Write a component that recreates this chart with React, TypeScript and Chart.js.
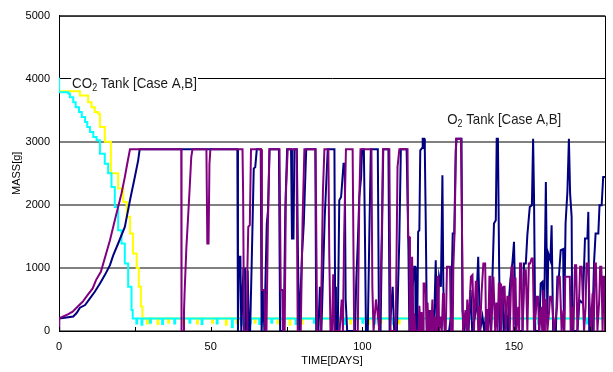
import React, { useEffect, useRef } from "react";
import { Chart, registerables } from "chart.js";

Chart.register(...registerables);

// ---- axis definitions ----
const X_MIN = 0;
const X_MAX = 180;
const X_LABEL_STEP = 50;
const X_MARK_STEP = 25;
const Y_MIN = 0;
const Y_MAX = 5000;
const Y_STEP = 1000;
const X_TITLE = "TIME[DAYS]";
const Y_TITLE = "MASS[g]";

// ---- series: [day, mass g] ----
const co2CaseA: [number, number][] = [
  [0, 3800], [6.9, 3734], [9.6, 3628], [10.7, 3549], [11.8, 3470], [12.9, 3444], [13.5, 3233],
  [15.1, 3000], [17.1, 2500], [19.5, 2260], [21.2, 2046], [22.3, 1810], [23.4, 1545], [24.4, 1230],
  [25.6, 1000], [26.3, 700], [27, 390], [27.5, 200],
  [29, 120], [29.3, 200], [32.5, 110], [32.8, 200], [36, 130], [36.3, 200], [41, 110], [41.3, 200],
  [45.5, 120], [45.8, 200], [50.5, 130], [50.8, 200], [55, 100], [55.3, 200], [58.5, 120], [58.8, 200],
  [61.5, 110], [61.8, 200], [64.5, 130], [64.8, 200], [68, 110], [68.3, 200], [72, 120], [72.3, 200],
  [76, 100], [76.3, 200], [80, 120], [80.3, 200], [86, 110], [86.3, 200], [92, 130], [92.3, 200],
  [96, 120], [96.3, 200], [102, 110], [102.3, 200], [106, 130], [106.3, 200], [112, 120], [112.3, 200],
  [116, 110], [116.3, 200], [180, 200],
];

const co2CaseB: [number, number][] = [
  [0, 4000], [0.05, 3786], [3.1, 3760], [3.6, 3707], [4.7, 3628], [5.5, 3549], [6.6, 3470], [7.5, 3391],
  [8.6, 3312], [9.3, 3233], [10.2, 3154], [11.3, 3075], [12.4, 3022], [13.5, 2810], [15.1, 2650],
  [16.2, 2500], [17.3, 2283], [18.4, 1967], [19.5, 1598], [20.6, 1387], [21.7, 1070], [22.8, 700],
  [23.9, 332], [24.3, 200],
  [25.5, 120], [25.8, 200], [27.2, 100], [27.5, 200], [30, 130], [30.3, 200], [34, 110], [34.3, 200],
  [38, 120], [38.3, 200], [43, 130], [43.3, 200], [47, 110], [47.3, 200], [52, 120], [52.3, 200],
  [57, 60], [57.3, 200], [60, 100], [60.3, 200], [63, 120], [63.3, 200], [66, 110], [66.3, 200],
  [70, 130], [70.3, 200], [74, 120], [74.3, 200], [78, 110], [78.3, 200], [84, 130], [84.3, 200],
  [90, 120], [90.3, 200], [94, 110], [94.3, 200], [100, 130], [100.3, 200], [104, 120], [104.3, 200],
  [110, 110], [110.3, 200], [118, 130], [118.3, 200], [125, 120], [125.3, 200], [134, 110], [134.3, 200],
  [142, 130], [142.3, 200], [150, 120], [150.3, 200], [158, 110], [158.3, 200], [166, 130], [166.3, 200],
  [174, 120], [174.3, 200], [180, 200],
];

const o2CaseA: [number, number][] = [
  [0, 0], [0.05, 200], [4.7, 230], [5.8, 285], [6.9, 369], [8.6, 411], [10.2, 517], [11.8, 622],
  [13.5, 754], [15.1, 886], [16.8, 1044], [17.9, 1202], [19.5, 1387], [21.7, 1650], [23.4, 2073],
  [25, 2441], [26.1, 2705], [26.6, 2880],
  [58.8, 2880], [59, 0], [59.3, 1176], [59.8, 1176], [60.1, 0], [60.8, 992], [61.3, 992], [61.6, 0],
  [62, 0], [62.2, 960], [62.6, 0], [63, 0], [63.5, 1018], [64.2, 2574], [64.7, 2600], [65.2, 2880],
  [66.5, 2880], [66.8, 0], [67.3, 649], [67.7, 0], [68.5, 1704], [68.9, 1914], [69.4, 2880],
  [72.5, 2880], [72.9, 0], [74.1, 0], [74.6, 1914], [75.2, 2880],
  [76.5, 2880], [76.8, 1466], [77.3, 1466], [77.6, 2880], [78.4, 2880], [78.8, 1100], [79.2, 0],
  [80.1, 1200], [80.7, 1700], [81.5, 2880],
  [84.5, 2880], [84.8, 0], [85.5, 0], [86, 700], [86.5, 0], [87.6, 1800], [88.6, 2880],
  [90.8, 2880], [91, 700], [91.3, 0], [91.9, 0], [92.4, 2073], [93, 2125], [93.8, 2650], [94.2, 2650],
  [94.5, 500], [95, 0],
  [97.6, 0], [98, 800], [98.5, 1387], [99, 2125], [99.6, 2441], [99.9, 2880], [100.5, 2880],
  [100.8, 1783], [101.2, 0], [101.8, 0], [102.3, 1500], [102.8, 2880],
  [105.1, 2880], [105.5, 0], [106, 0], [106.5, 1600], [106.9, 2880], [108.6, 2880], [109, 0],
  [110, 700], [110.5, 0], [111.4, 0], [112.2, 1466], [112.7, 2880], [114.6, 2880], [115.2, 1300],
  [115.5, 0], [116.3, 0], [116.6, 700], [117.1, 1018], [117.4, 1018], [117.6, 0], [118.1, 0],
  [118.4, 1572], [118.8, 1600], [119.1, 2864], [119.7, 2900], [119.9, 3048], [120.4, 3048],
  [120.6, 2864], [120.9, 1756], [121.3, 0], [122, 332], [122.5, 0], [123.1, 332], [123.6, 0],
  [124.2, 1123], [124.6, 0], [125.3, 860], [125.9, 701], [126.4, 2468], [126.7, 701], [127.2, 0],
  [128.6, 0], [129.2, 227], [129.8, 1545], [130.3, 1545], [130.8, 2864], [131.1, 3048], [132.7, 3048],
  [133, 332], [133.5, 0], [134.6, 332], [135, 0], [135.7, 649], [136.2, 0], [137.5, 332], [138.2, 1176],
  [138.8, 0], [139.6, 227], [140.2, 0], [140.7, 227], [141.8, 332], [142.4, 0], [142.9, 860],
  [143.4, 1704], [144, 1756], [144.3, 3048], [144.7, 3048], [145.1, 1018], [145.4, 0], [146.2, 701],
  [146.6, 0], [147.3, 332], [148, 0], [148.4, 543], [148.8, 807], [149.5, 1097], [150, 1413],
  [150.3, 1413], [150.6, 0], [152.8, 0], [153.3, 1070], [153.9, 1070], [154.4, 1519], [155.2, 1967],
  [155.9, 1994], [156.3, 3048], [156.6, 2125], [157, 0], [158.3, 0], [158.8, 754], [159.4, 780],
  [159.9, 0], [160.5, 2363], [161, 227], [161.3, 1229], [162, 1123], [162.4, 1677], [162.9, 0],
  [163.8, 0], [164.3, 860], [164.8, 860], [165.4, 1282], [166.2, 1300], [166.5, 0], [167, 1704],
  [167.6, 2204], [168.1, 3048], [168.5, 2178], [169, 1809], [169.2, 0], [170.9, 0], [171.6, 490],
  [172.7, 438], [173.4, 1466], [174.2, 1466], [174.5, 1888], [174.8, 0], [175.8, 0], [176.4, 1097],
  [176.9, 1545], [177.8, 1545], [178.2, 1994], [178.9, 1994], [179.4, 2442], [180, 2442],
];

const o2CaseB: [number, number][] = [
  [0, 0], [0.05, 200], [2.9, 264], [4.5, 306], [6.1, 385], [7.8, 464], [9.4, 570], [11.1, 675],
  [12.2, 807], [13.8, 939], [14.9, 1123], [16.8, 1440], [18.4, 1756], [20.6, 2180], [21.7, 2440],
  [22.3, 2600], [23.4, 2880],
  [40.3, 2880], [40.4, 0], [41, 0], [41.2, 300], [41.4, 600], [42, 1334], [42.5, 1756], [43.1, 2283],
  [43.6, 2758], [44, 2880],
  [48.6, 2880], [48.9, 1387], [49.3, 1387], [49.6, 2650], [49.9, 2880],
  [60.5, 2880], [60.7, 2178], [61, 0], [62, 0], [62.1, 965], [62.4, 1650], [62.9, 1677], [63.3, 2880],
  [66.6, 2880], [66.9, 649], [67.7, 649], [68, 0], [68.4, 0], [68.9, 1756], [69.4, 2880],
  [72.7, 2880], [73.1, 649], [73.6, 649], [73.8, 0], [74.4, 0], [74.8, 2178], [75.4, 2880],
  [78.3, 2880], [78.7, 0], [79.7, 0], [80.3, 1756], [80.9, 2880],
  [84.6, 2880], [84.9, 1100], [85.1, 0], [86.3, 0], [86.6, 1000], [87, 2205], [87.5, 2880],
  [88.8, 2880], [89.1, 1200], [89.5, 0], [90, 0], [90.4, 900], [90.8, 0], [92.5, 0], [93.2, 500],
  [93.6, 0], [94, 1500], [94.6, 2880],
  [96.8, 2880], [97.3, 0], [98.5, 0], [99, 2100], [99.4, 2880],
  [103, 2880], [103.3, 700], [103.7, 0], [104.5, 500], [105, 300], [105.6, 0], [106.4, 1500], [106.8, 2880],
  [108.9, 2880], [109.3, 0], [111, 0], [111.6, 2600], [112.2, 2880],
  [114.9, 2880], [115.1, 1492], [115.5, 1492], [115.7, 0], [116.2, 0], [116.4, 1176], [116.7, 1176],
  [116.9, 0], [117.1, 280], [117.5, 0], [118.5, 0], [118.8, 400], [119.2, 0], [119.5, 300], [119.8, 0],
  [120, 0], [120.2, 754], [120.6, 754], [120.9, 596], [121.2, 0], [121.5, 450], [121.8, 0],
  [122.2, 0], [122.4, 332], [122.7, 0], [123.1, 500], [123.4, 0], [123.9, 227], [124.2, 0],
  [124.6, 0], [124.8, 860], [125.1, 860], [125.3, 0], [125.9, 227], [126.2, 0], [126.6, 600],
  [126.9, 300], [127.2, 0], [127.5, 0], [127.9, 1018], [128.9, 1018], [129.2, 0], [129.8, 0],
  [130, 1018], [130.4, 1545], [130.9, 3048], [132.5, 3048], [132.8, 1862], [133.2, 0], [134, 332],
  [134.3, 0], [134.6, 500], [134.9, 0], [135, 0], [135.8, 860], [136.3, 887], [136.8, 0], [137.4, 780],
  [137.8, 780], [138.2, 0], [138.5, 400], [138.8, 0], [139.3, 596], [139.9, 1070], [140.5, 1070],
  [140.8, 0], [141.1, 350], [141.5, 0], [141.9, 860], [142.2, 860], [142.5, 0], [143.2, 860],
  [143.8, 0], [144.2, 450], [144.6, 0], [145, 754], [145.4, 754], [145.7, 0], [146.1, 300],
  [146.5, 701], [146.9, 701], [147.3, 0], [147.8, 543], [148.3, 543], [148.6, 0], [149.2, 1018],
  [149.6, 1018], [149.9, 0],
  [150.2, 833], [150.5, 833], [150.8, 0], [151.4, 385], [151.7, 0], [152, 1070], [152.4, 1070],
  [152.8, 0], [153.1, 400], [153.5, 965], [153.9, 965], [154.4, 0], [154.9, 1070], [155.3, 1070],
  [155.8, 1150], [156.2, 1150], [156.6, 0], [157.2, 300], [157.5, 543], [157.9, 543], [158.3, 0],
  [159, 385], [159.3, 0], [159.7, 650], [160, 0], [160.2, 490], [160.6, 490], [161, 0], [161.6, 332],
  [161.9, 543], [162.4, 543], [163.2, 0], [163.8, 227], [164.2, 385], [164.6, 860], [165.1, 860],
  [165.7, 0], [166.3, 332], [166.6, 0], [166.9, 860], [167.5, 860], [168, 860], [168.4, 860],
  [168.7, 0], [169.3, 385], [169.6, 0], [170.1, 1044], [170.5, 1044], [170.9, 0], [171.5, 543],
  [171.8, 1018], [172.3, 1018], [173.1, 0], [173.6, 385], [173.9, 1070], [174.4, 1070], [175.3, 0],
  [175.9, 596], [176.3, 0], [176.6, 1070], [177, 1070], [177.5, 0], [178.1, 490], [178.4, 1018],
  [178.8, 1018], [179.2, 0], [179.5, 860], [179.9, 860], [180, 0],
];

// ---- annotation labels ----
const labelCO2 = { main: "CO", sub: "2", rest: " Tank [Case A,B]", day: 4.3, mass: 3845, width: 125 };
const labelO2 = { main: "O", sub: "2", rest: " Tank [Case A,B]", day: 128, mass: 3275, width: 114 };

const FONT = '"Liberation Sans", Arial, Helvetica, sans-serif';

const toXY = (a: [number, number][]) => a.map(([x, y]) => ({ x, y }));

function drawLabel(ctx: CanvasRenderingContext2D, chart: any, l: any) {
  const xs = chart.scales.x;
  const ys = chart.scales.y;
  const x = xs.getPixelForValue(l.day);
  const y = ys.getPixelForValue(l.mass);
  ctx.save();
  ctx.font = `15px ${FONT}`;
  const w1 = ctx.measureText(l.main).width;
  ctx.font = `10px ${FONT}`;
  const w2 = ctx.measureText(l.sub).width;
  ctx.font = `15px ${FONT}`;
  const w3 = ctx.measureText(l.rest).width;
  const total = w1 + w2 + w3;
  const s = l.width / total;
  ctx.translate(x, y);
  ctx.scale(s, 1);
  ctx.fillStyle = "#ffffff";
  ctx.fillRect(-1, -12, total + 2, 13);
  ctx.fillStyle = "#1a1a1a";
  ctx.textBaseline = "alphabetic";
  ctx.textAlign = "left";
  ctx.fillText(l.main, 0, 0);
  ctx.font = `10px ${FONT}`;
  ctx.fillText(l.sub, w1, 3);
  ctx.font = `15px ${FONT}`;
  ctx.fillText(l.rest, w1 + w2, 0);
  ctx.restore();
}

const framePlugin = {
  id: "frame",
  afterDraw(chart: any) {
    const { ctx, chartArea } = chart;
    const xs = chart.scales.x;
    ctx.save();
    ctx.strokeStyle = "#000";
    ctx.lineWidth = 1;
    for (let v = X_MIN; v <= X_MAX; v += X_MARK_STEP) {
      const px = Math.round(xs.getPixelForValue(v)) + 0.5;
      ctx.beginPath();
      ctx.moveTo(px, chartArea.bottom);
      ctx.lineTo(px, chartArea.bottom - 4);
      ctx.stroke();
    }
    ctx.beginPath();
    ctx.moveTo(chartArea.left, chartArea.top + 0.5);
    ctx.lineTo(chartArea.right + 0.5, chartArea.top + 0.5);
    ctx.lineTo(chartArea.right + 0.5, chartArea.bottom);
    ctx.stroke();
    ctx.restore();
    drawLabel(ctx, chart, labelCO2);
    drawLabel(ctx, chart, labelO2);
  },
};

export default function App() {
  const ref = useRef<HTMLCanvasElement | null>(null);
  useEffect(() => {
    if (!ref.current) return;
    const line = (data: [number, number][], color: string, order: number, stepped: any) => ({
      data: toXY(data),
      borderColor: color,
      backgroundColor: color,
      borderWidth: 2,
      pointRadius: 0,
      tension: 0,
      fill: false,
      stepped,
      order,
    });
    const chart = new Chart(ref.current, {
      type: "line",
      data: {
        datasets: [
          line(o2CaseB, "#800080", 0, false),
          line(o2CaseA, "#000080", 1, false),
          line(co2CaseB, "#00FFFF", 2, "before"),
          line(co2CaseA, "#FFFF00", 3, "before"),
        ],
      },
      options: {
        animation: false,
        responsive: true,
        maintainAspectRatio: false,
        devicePixelRatio: 1,
        layout: { padding: { top: 15, right: 8, left: 0, bottom: 0 } },
        plugins: { legend: { display: false }, tooltip: { enabled: false } },
        scales: {
          x: {
            type: "linear",
            min: X_MIN,
            max: X_MAX,
            afterFit: (s: any) => { s.height = 41; },
            ticks: {
              stepSize: X_LABEL_STEP,
              includeBounds: false,
              maxRotation: 0,
              padding: 9,
              color: "#000",
              font: { family: FONT, size: 11 },
              callback: (v: any) => String(v),
            },
            grid: { display: false, drawTicks: false },
            border: { display: true, color: "#000", width: 1 },
            title: {
              display: true,
              text: X_TITLE,
              color: "#000",
              font: { family: FONT, size: 11 },
              padding: { top: 0, bottom: 4 },
            },
          },
          y: {
            type: "linear",
            min: Y_MIN,
            max: Y_MAX,
            afterFit: (s: any) => { s.width = 59; },
            ticks: {
              stepSize: Y_STEP,
              padding: 9,
              color: "#000",
              font: { family: FONT, size: 11 },
              callback: (v: any) => String(v),
            },
            grid: {
              drawTicks: false,
              color: (c: any) => (c.tick && c.tick.value === 4000 ? "#000000" : "#808080"),
              lineWidth: (c: any) => (c.tick && c.tick.value === 4000 ? 1 : 2),
            },
            border: { display: true, color: "#000", width: 1 },
            title: {
              display: true,
              text: Y_TITLE,
              color: "#000",
              font: { family: FONT, size: 11 },
              padding: { top: 10, bottom: 0 },
            },
          },
        },
      } as any,
      plugins: [framePlugin],
    });
    return () => chart.destroy();
  }, []);
  return (
    <div style={{ position: "fixed", left: 0, top: 0, width: 613, height: 372, background: "#fff" }}>
      <canvas ref={ref} />
    </div>
  );
}
